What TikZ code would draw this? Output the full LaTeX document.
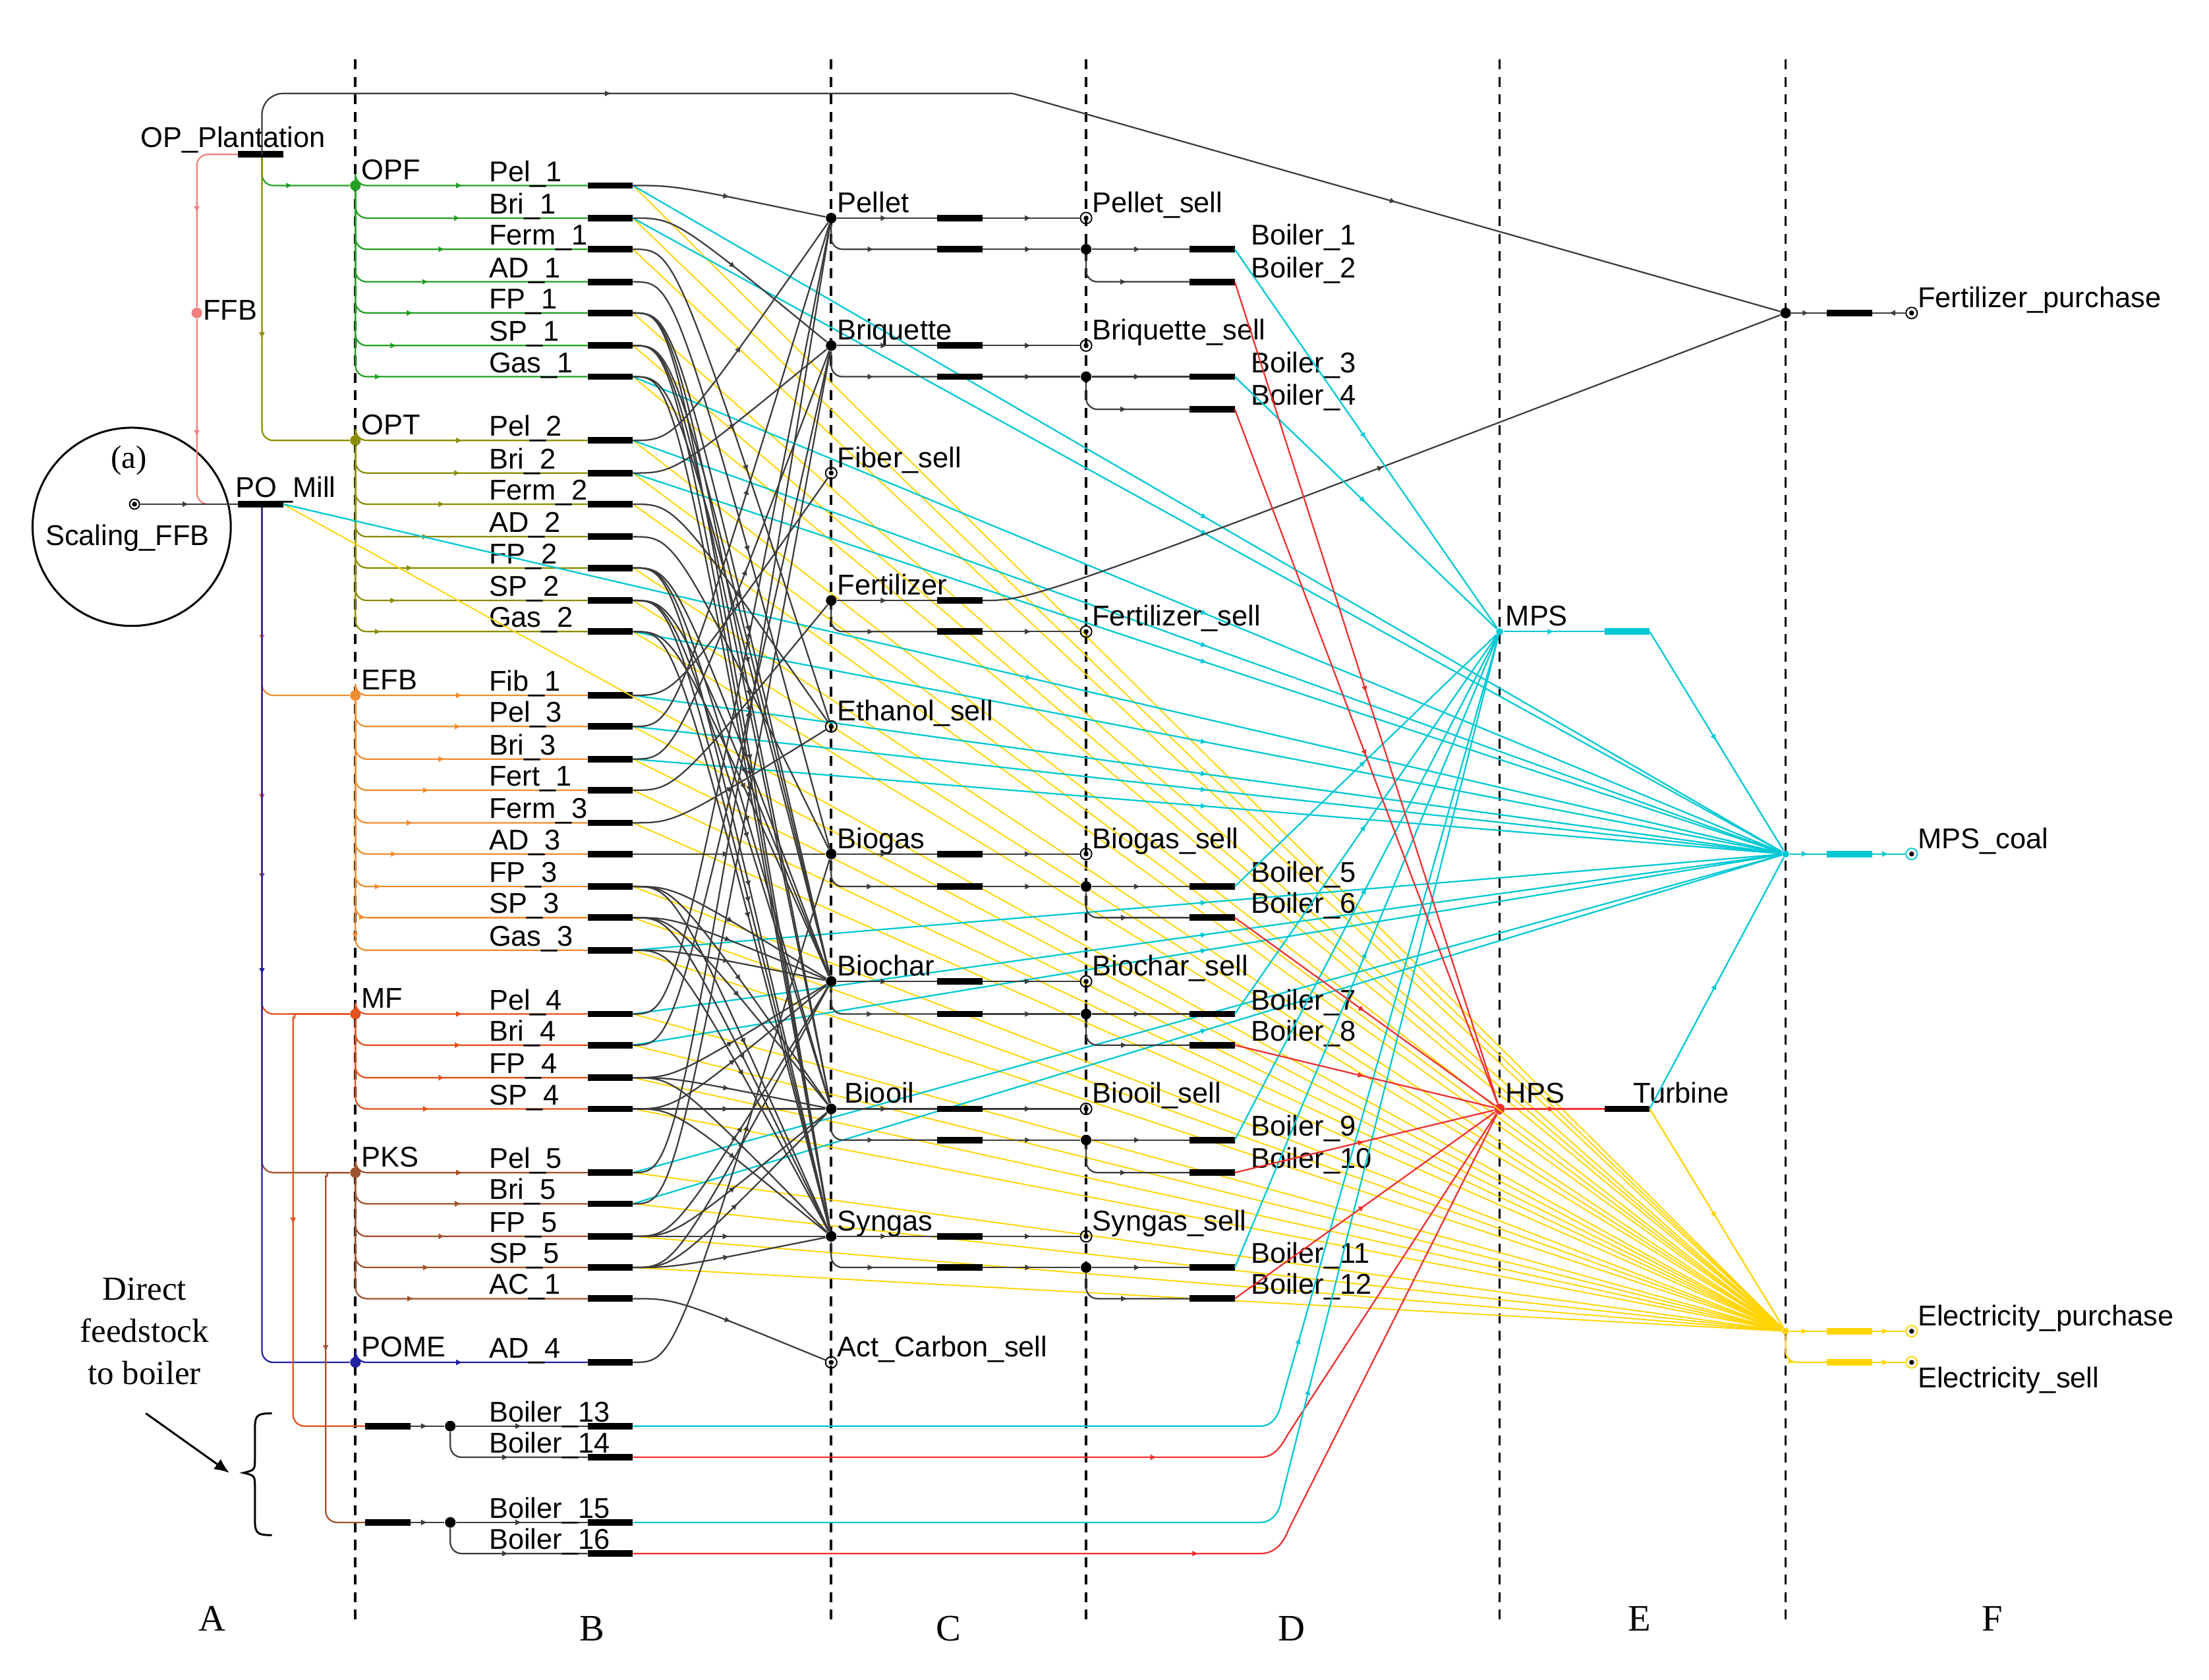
\documentclass[tikz,border=0pt]{standalone}
\usepackage{fontspec}
\setmainfont{Liberation Sans}
\newfontfamily\tnrfont{Liberation Serif}
\usetikzlibrary{arrows.meta,decorations.markings,calc}
\definecolor{cy}{RGB}{0,200,212}
\definecolor{ye}{RGB}{255,212,0}
\definecolor{rd}{RGB}{240,48,48}
\definecolor{gn}{RGB}{34,160,34}
\definecolor{ol}{RGB}{140,140,0}
\definecolor{orr}{RGB}{240,140,48}
\definecolor{mfc}{RGB}{230,80,28}
\definecolor{br}{RGB}{160,82,45}
\definecolor{nv}{RGB}{32,32,160}
\definecolor{pk}{RGB}{240,128,128}
\definecolor{gl}{RGB}{60,60,60}
\tikzset{
 mid/.style={postaction={decorate},decoration={markings,mark=at position 0.5 with {\arrow{Latex[length=2.6pt,width=2.4pt]}}}},
 ln/.style={line width=0.6pt,mid},
 feed/.style={ln,rounded corners=0.16cm},
 link/.style={ln,draw=gl},
 cyl/.style={ln,draw=cy},
 yel/.style={line width=0.5pt,draw=ye},
 bar/.style={line width=2.6pt,line cap=butt},
 lab/.style={anchor=base west,inner sep=0pt,font=\fontsize{11.5}{13}\selectfont},
 big/.style={inner sep=0pt,font=\tnrfont\fontsize{15}{18}\selectfont},
 dot/.style={circle,fill,inner sep=0pt,minimum size=0.15cm},
 sell/.style={circle,draw,line width=0.5pt,inner sep=0pt,minimum size=0.16cm,
   path picture={\fill (path picture bounding box.center) circle (0.035cm);}},
 dsh/.style={line width=1pt,dash pattern=on 4pt off 3pt},
}
\newcommand\proc[5]{%
 \coordinate (#1w) at (415,#3); \coordinate (#1) at (447,#3);
 \draw[feed,draw=#4] (#5) |- (#1w);
 \draw[bar] (#1w) -- (#1);
 \node[lab] (#1l) at (345,#3-3) {#2};}
\newcommand\prd[6]{% id, label, y, y2, target1, target2
 \node[dot] (#1) at (587,#3) {};
 \node[lab] (#1l) at (591,#3-4) {#2};
 \coordinate (#1a) at (662,#3); \coordinate (#1b) at (694,#3);
 \coordinate (#1c) at (662,#4); \coordinate (#1d) at (694,#4);
 \draw[link] (#1) -- (#1a); \draw[bar] (#1a) -- (#1b);
 \draw[link,rounded corners=0.16cm] (#1) |- (#1c); \draw[bar] (#1c) -- (#1d);
 \draw[link] (#1b) -- (#5); \draw[link] (#1d) -- (#6);}
\newcommand\sellnode[4]{\node[sell] (#1) at (767,#3) {}; \node[lab] (#1l) at (771,#4) {#2};}
\newcommand\boil[5]{% hubid, y, y2, n1, n2
 \node[dot] (#1) at (767,#2) {};
 \coordinate (Bo#4w) at (840,#2); \coordinate (Bo#4) at (872,#2);
 \coordinate (Bo#5w) at (840,#3); \coordinate (Bo#5) at (872,#3);
 \draw[link] (#1) -- (Bo#4w); \draw[link,rounded corners=0.16cm] (#1) |- (Bo#5w);
 \draw[bar] (Bo#4w) -- (Bo#4); \draw[bar] (Bo#5w) -- (Bo#5);
 \node[lab] (Bo#4l) at (883,#2-3) {Boiler\_#4};
 \node[lab] (Bo#5l) at (883,#3-3) {Boiler\_#5};}
\begin{document}
\begin{tikzpicture}[x=0.02cm,y=-0.02cm]
\useasboundingbox (0,0) rectangle (1560,1186);
\fill[white] (0,0) rectangle (1560,1186);
% dashed column lines
\foreach \x in {251,587,767,1059,1261} \draw[dsh] (\x,42) -- (\x,1145);
% column letters
\node[big] (cA) at (150,1143) {A};
\node[big] (cB) at (418,1150) {B};
\node[big] (cC) at (670,1150) {C};
\node[big] (cD) at (912,1150) {D};
\node[big] (cE) at (1158,1143) {E};
\node[big] (cF) at (1407,1143) {F};
% --- right side junctions
\node[dot] (FPj) at (1261,221) {};
\node[dot,fill=cy,minimum size=0.1cm] (MPSc) at (1261,603) {};
\node[dot,fill=ye,minimum size=0.1cm] (ELj) at (1261,940) {};
\node[dot,fill=cy,minimum size=0.1cm] (MPS) at (1059,446) {};
\node[dot,fill=rd] (HPS) at (1059,783) {};
% --- column A
\node[circle,draw,line width=0.8pt,minimum size=2.8cm] (bigc) at (93,372) {};
\node[big,font=\tnrfont\fontsize{13}{15}\selectfont] (al) at (91,325) {(a)};
\node[sell,minimum size=0.14cm] (ScF) at (95,356) {};
\node[lab,anchor=center] (ScFl) at (90,380) {Scaling\_FFB};
\coordinate (OPw) at (168,109); \coordinate (OPe) at (200,109); \coordinate (OPc) at (185,109);
\coordinate (PMw) at (168,356); \coordinate (PMe) at (200,356); \coordinate (PMc) at (185,356);
\node[lab] (OPl) at (99,104) {OP\_Plantation};
\node[lab] (PMl) at (166,351) {PO\_Mill};
\node[dot,fill=pk] (FFB) at (139,221) {};
\node[lab] (FFBl) at (143,226) {FFB};
\draw[feed,draw=pk] (OPw) -| (FFB);
\draw[feed,draw=pk] (FFB) |- (150,356) -- (PMw);
\draw[link] (ScF) -- (PMw);
% hubs
\node[dot,fill=gn] (OPF) at (251,131) {};
\node[dot,fill=ol] (OPT) at (251,311) {};
\node[dot,fill=orr] (EFB) at (251,491) {};
\node[dot,fill=mfc] (MF) at (251,716) {};
\node[dot,fill=br] (PKS) at (251,828) {};
\node[dot,fill=nv] (POME) at (251,962) {};
\foreach \h/\t in {OPF/OPF,OPT/OPT,EFB/EFB,MF/MF,PKS/PKS,POME/POME}
  \node[lab] (\h l) at ($(\h)+(4,-4)$) {\t};
\draw[feed,draw=gn] (OPc) |- (OPF);
\draw[feed,draw=ol] (OPc) |- (OPT);
\draw[feed,draw=orr] (PMc) |- (EFB);
\draw[feed,draw=mfc] (PMc) |- (MF);
\draw[feed,draw=br] (PMc) |- (PKS);
\draw[feed,draw=nv] (PMc) |- (POME);
\draw[bar] (OPw) -- (OPe);
\draw[bar] (PMw) -- (PMe);
% grey top line to fertilizer purchase
\coordinate (tl1) at (715,66);
\draw[ln,draw=gl,rounded corners=0.3cm] (OPc) |- (tl1);
\draw[ln,draw=gl] (tl1) -- (730,70) -- (FPj);
% --- B processes
\proc{Pel1}{Pel\_1}{131}{gn}{OPF}
\proc{Bri1}{Bri\_1}{154}{gn}{OPF}
\proc{Ferm1}{Ferm\_1}{176}{gn}{OPF}
\proc{AD1}{AD\_1}{199}{gn}{OPF}
\proc{FP1}{FP\_1}{221}{gn}{OPF}
\proc{SP1}{SP\_1}{244}{gn}{OPF}
\proc{Gas1}{Gas\_1}{266}{gn}{OPF}
\proc{Pel2}{Pel\_2}{311}{ol}{OPT}
\proc{Bri2}{Bri\_2}{334}{ol}{OPT}
\proc{Ferm2}{Ferm\_2}{356}{ol}{OPT}
\proc{AD2}{AD\_2}{379}{ol}{OPT}
\proc{FP2}{FP\_2}{401}{ol}{OPT}
\proc{SP2}{SP\_2}{424}{ol}{OPT}
\proc{Gas2}{Gas\_2}{446}{ol}{OPT}
\proc{Fib1}{Fib\_1}{491}{orr}{EFB}
\proc{Pel3}{Pel\_3}{513}{orr}{EFB}
\proc{Bri3}{Bri\_3}{536}{orr}{EFB}
\proc{Fert1}{Fert\_1}{558}{orr}{EFB}
\proc{Ferm3}{Ferm\_3}{581}{orr}{EFB}
\proc{AD3}{AD\_3}{603}{orr}{EFB}
\proc{FP3}{FP\_3}{626}{orr}{EFB}
\proc{SP3}{SP\_3}{648}{orr}{EFB}
\proc{Gas3}{Gas\_3}{671}{orr}{EFB}
\proc{Pel4}{Pel\_4}{716}{mfc}{MF}
\proc{Bri4}{Bri\_4}{738}{mfc}{MF}
\proc{FP4}{FP\_4}{761}{mfc}{MF}
\proc{SP4}{SP\_4}{783}{mfc}{MF}
\proc{Pel5}{Pel\_5}{828}{br}{PKS}
\proc{Bri5}{Bri\_5}{850}{br}{PKS}
\proc{FP5}{FP\_5}{873}{br}{PKS}
\proc{SP5}{SP\_5}{895}{br}{PKS}
\proc{AC1}{AC\_1}{917}{br}{PKS}
\proc{AD4}{AD\_4}{962}{nv}{POME}
% --- yellow lines (drawn first, under)
\foreach \s in {PMe,Pel1,Bri1,Ferm1,FP1,SP1,Gas1,Pel2,Bri2,Ferm2,FP2,SP2,Gas2,Pel3,Bri3,Fert1,Ferm3,FP3,SP3,Gas3,Pel4,Bri4,FP4,SP4,Pel5,Bri5,FP5,SP5}
  \draw[yel] (\s) -- (ELj);
% --- cyan lines to MPS_coal
\foreach \s in {PMe,Pel1,Bri1,Gas1,Pel2,Bri2,Gas2,Fib1,Pel3,Bri3,Gas3,Pel4,Bri4,Pel5,Bri5}
  \draw[cyl] (\s) -- (MPSc);
% --- sell nodes in C
\node[sell] (FibS) at (587,334) {}; \node[lab] (FibSl) at (591,330) {Fiber\_sell};
\node[sell] (EthS) at (587,513) {}; \node[lab] (EthSl) at (591,509) {Ethanol\_sell};
\node[sell] (ActS) at (587,962) {}; \node[lab] (ActSl) at (591,958) {Act\_Carbon\_sell};
% sells in D
\sellnode{PelS}{Pellet\_sell}{154}{150}
\sellnode{BriS}{Briquette\_sell}{244}{240}
\sellnode{FerS}{Fertilizer\_sell}{446}{442}
\sellnode{BgS}{Biogas\_sell}{603}{599}
\sellnode{BcS}{Biochar\_sell}{693}{689}
\sellnode{BoS}{Biooil\_sell}{783}{779}
\sellnode{SgS}{Syngas\_sell}{873}{869}
% boiler hubs
\boil{BH1}{176}{199}{1}{2}
\boil{BH2}{266}{289}{3}{4}
\boil{BH3}{626}{648}{5}{6}
\boil{BH4}{716}{738}{7}{8}
\boil{BH5}{805}{828}{9}{10}
\boil{BH6}{895}{917}{11}{12}
% products
\prd{Pellet}{Pellet}{154}{176}{PelS}{BH1}
\prd{Briq}{Briquette}{244}{266}{BriS}{BH2}
\node[dot] (Fert) at (587,424) {};
\node[lab] (Fertl) at (591,420) {Fertilizer};
\coordinate (Ferta) at (662,424); \coordinate (Fertb) at (694,424);
\coordinate (Fertc) at (662,446); \coordinate (Fertd) at (694,446);
\draw[link] (Fert) -- (Ferta); \draw[bar] (Ferta) -- (Fertb);
\draw[link,rounded corners=0.16cm] (Fert) |- (Fertc); \draw[bar] (Fertc) -- (Fertd);
\draw[link] (Fertb) .. controls (730,424) .. (FPj);
\draw[link] (Fertd) -- (FerS);
\prd{Biogas}{Biogas}{603}{626}{BgS}{BH3}
\prd{Biochar}{Biochar}{693}{716}{BcS}{BH4}
\node[dot] (Biooil) at (587,783) {};
\node[lab] (Biooill) at (596,779) {Biooil};
\coordinate (Biooila) at (662,783); \coordinate (Biooilb) at (694,783);
\coordinate (Biooilc) at (662,805); \coordinate (Biooild) at (694,805);
\draw[link] (Biooil) -- (Biooila); \draw[bar] (Biooila) -- (Biooilb);
\draw[link,rounded corners=0.16cm] (Biooil) |- (Biooilc); \draw[bar] (Biooilc) -- (Biooild);
\draw[link] (Biooilb) -- (BoS); \draw[link] (Biooild) -- (BH5);
\prd{Syngas}{Syngas}{873}{895}{SgS}{BH6}
% --- black links B -> C
\foreach \i in {1,2} {
 \draw[link] (Pel\i) .. controls +(30,0) .. (Pellet);
 \draw[link] (Bri\i) .. controls +(30,0) .. (Briq);
 \draw[link] (Ferm\i) .. controls +(30,0) .. (EthS);
 \draw[link] (AD\i) .. controls +(30,0) .. (Biogas);
 \draw[link] (Gas\i) .. controls +(30,0) .. (Syngas);
 \draw[link] (Gas\i) .. controls +(30,0) .. (Biochar);}
\foreach \s in {FP1,SP1,FP2,SP2,FP3,SP3,FP4,SP4,FP5,SP5} {
 \draw[link] (\s) .. controls +(30,0) .. (Biochar);
 \draw[link] (\s) .. controls +(30,0) .. (Biooil);
 \draw[link] (\s) .. controls +(30,0) .. (Syngas);}
\draw[link] (Gas3) .. controls +(30,0) .. (Syngas);
\draw[link] (Gas3) .. controls +(30,0) .. (Biochar);
\draw[link] (Fib1) .. controls +(30,0) .. (FibS);
\draw[link] (Fert1) .. controls +(30,0) .. (Fert);
\draw[link] (Ferm3) .. controls +(30,0) .. (EthS);
\draw[link] (AD3) .. controls +(30,0) .. (Biogas);
\draw[link] (AD4) .. controls +(30,0) .. (Biogas);
\draw[link] (AC1) .. controls +(30,0) .. (ActS);
\foreach \i in {3,4,5} {
 \draw[link] (Pel\i) .. controls +(30,0) .. (Pellet);
 \draw[link] (Bri\i) .. controls +(30,0) .. (Briq);}
% --- direct feedstock to boiler
\coordinate (DF1w) at (258,1007); \coordinate (DF1e) at (290,1007);
\coordinate (DF2w) at (258,1075); \coordinate (DF2e) at (290,1075);
\draw[feed,draw=mfc] (MF) -- (215,716) to[out=180,in=90] (207,726) |- (DF1w);
\draw[feed,draw=br] (PKS) -- (238,828) to[out=180,in=90] (230,838) |- (DF2w);
\draw[bar] (DF1w) -- (DF1e); \draw[bar] (DF2w) -- (DF2e);
\node[dot] (DJ1) at (318,1007) {};
\node[dot] (DJ2) at (318,1075) {};
\draw[link] (DF1e) -- (DJ1); \draw[link] (DF2e) -- (DJ2);
\coordinate (Bo13w) at (415,1007); \coordinate (Bo13) at (447,1007);
\coordinate (Bo14w) at (415,1029); \coordinate (Bo14) at (447,1029);
\coordinate (Bo15w) at (415,1075); \coordinate (Bo15) at (447,1075);
\coordinate (Bo16w) at (415,1097); \coordinate (Bo16) at (447,1097);
\draw[link] (DJ1) -- (Bo13w); \draw[link,rounded corners=0.16cm] (DJ1) |- (Bo14w);
\draw[link] (DJ2) -- (Bo15w); \draw[link,rounded corners=0.16cm] (DJ2) |- (Bo16w);
\foreach \n/\y in {13/1007,14/1029,15/1075,16/1097} {
 \draw[bar] (Bo\n w) -- (Bo\n);
 \node[lab] (Bo\n l) at (345,\y-3) {Boiler\_\n};}
\draw[ln,draw=cy] (Bo13) -- (890,1007) to[out=0,in=-100] (905,990) -- (MPS);
\draw[ln,draw=rd] (Bo14) -- (890,1029) to[out=0,in=-120] (910,1012) -- (HPS);
\draw[ln,draw=cy] (Bo15) -- (890,1075) to[out=0,in=-95] (905,1058) -- (MPS);
\draw[ln,draw=rd] (Bo16) -- (890,1097) to[out=0,in=-110] (910,1080) -- (HPS);
% brace & annotation
\draw[line width=0.8pt] (192,998) .. controls (180,998) and (180,1000) .. (180,1012) -- (180,1030)
   .. controls (180,1038) .. (172,1040) .. controls (180,1042) .. (180,1050) -- (180,1070)
   .. controls (180,1082) and (180,1084) .. (192,1084);
\node[big,align=center,font=\tnrfont\fontsize{13.5}{17}\selectfont] (dft) at (102,940) {Direct\\feedstock\\to boiler};
\coordinate (arS) at (103,998);
\draw[line width=0.8pt,-{Latex[length=6pt,width=5pt]}] (arS) -- (162,1040);
% --- boilers to steam headers
\foreach \n in {1,3,5,7,9,11} \draw[ln,draw=cy] (Bo\n) -- (MPS);
\foreach \n in {2,4,6,8,10,12} \draw[ln,draw=rd] (Bo\n) -- (HPS);
% --- E column
\coordinate (MPbw) at (1133,446); \coordinate (MPbe) at (1165,446);
\draw[ln,draw=cy] (MPS) -- (MPbw); \draw[bar,draw=cy] (MPbw) -- (MPbe);
\draw[ln,draw=cy] (MPbe) -- (MPSc);
\node[lab] (MPSl) at (1063,442) {MPS};
\node[lab] (HPSl) at (1063,779) {HPS};
\coordinate (Tw) at (1133,783); \coordinate (Te) at (1165,783);
\draw[ln,draw=rd] (HPS) -- (Tw); \draw[bar] (Tw) -- (Te);
\node[lab] (Tl) at (1153,779) {Turbine};
\draw[ln,draw=cy] (Te) -- (MPSc);
\draw[ln,draw=ye] (Te) -- (ELj);
% --- F column
\coordinate (F1w) at (1290,221); \coordinate (F1e) at (1322,221);
\draw[link] (FPj) -- (F1w); \draw[bar] (F1w) -- (F1e);
\node[sell] (FPs) at (1350,221) {}; \draw[link] (FPs) -- (F1e);
\node[lab] (FPl) at (1354,217) {Fertilizer\_purchase};
\coordinate (M1w) at (1290,603); \coordinate (M1e) at (1322,603);
\draw[ln,draw=cy] (MPSc) -- (M1w); \draw[bar,draw=cy] (M1w) -- (M1e);
\node[sell,draw=cy] (MCs) at (1350,603) {}; \draw[ln,draw=cy] (M1e) -- (MCs);
\node[lab] (MCl) at (1354,599) {MPS\_coal};
\coordinate (E1w) at (1290,940); \coordinate (E1e) at (1322,940);
\coordinate (E2w) at (1290,962); \coordinate (E2e) at (1322,962);
\draw[ln,draw=ye] (ELj) -- (E1w); \draw[bar,draw=ye] (E1w) -- (E1e);
\draw[ln,draw=ye,rounded corners=0.16cm] (ELj) |- (E2w); \draw[bar,draw=ye] (E2w) -- (E2e);
\node[sell,draw=ye] (EPs) at (1350,940) {}; \draw[ln,draw=ye] (E1e) -- (EPs);
\node[sell,draw=ye] (ESs) at (1350,962) {}; \draw[ln,draw=ye] (E2e) -- (ESs);
\node[lab] (EPl) at (1354,936) {Electricity\_purchase};
\node[lab] (ESl) at (1354,980) {Electricity\_sell};
\end{tikzpicture}
\end{document}
